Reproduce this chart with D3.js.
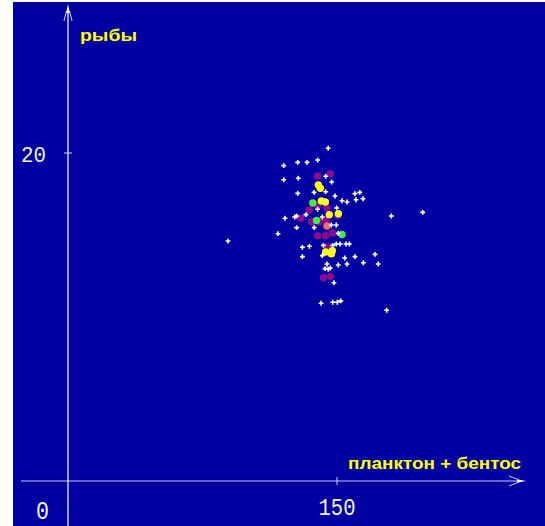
<!DOCTYPE html>
<html>
<head>
<meta charset="utf-8">
<script src="https://cdn.jsdelivr.net/npm/d3@7"></script>
<style>
  html, body { margin: 0; padding: 0; background: #ffffff; }
  svg { display: block; }
</style>
</head>
<body>
<svg id="chart" width="545" height="526"></svg>
<script>
// Axis labels and tick values
const yLabel = "рыбы";
const xLabel = "планктон + бентос";
const xTicks = [150];
const yTicks = [20];
const originLabel = "0";

// Individual observations (plankton + benthos, fish)
const plainX = [145.1,120.3,128.1,133.3,139.2,120.3,128.4,143.7,147.0,128.1,137.2,143.7,148.9,160.0,162.7,164.5,160.6,152.8,155.6,149.8,197.8,180.3,121.0,126.4,127.5,132.7,139.2,141.8,146.8,149.6,127.5,137.3,117.1,150.7,130.7,134.6,142.4,147.6,149.6,151.7,155.0,156.9,130.7,141.8,154.3,160.0,171.2,173.0,164.7,155.6,150.7,144.4,143.3,145.1,146.3,148.3,141.1,147.6,150.2,152.1,177.7,89.2];
const plainY = [20.29,19.23,19.43,19.43,19.57,18.37,18.46,18.58,18.23,17.54,17.60,17.64,17.38,17.52,17.60,17.21,17.15,17.09,17.01,16.65,16.38,16.16,16.02,16.10,16.16,16.24,16.57,16.10,15.61,15.61,15.45,15.45,15.08,15.10,14.25,14.31,14.37,14.37,14.45,14.45,14.45,14.45,13.68,13.74,13.60,13.68,13.82,13.23,13.31,13.23,13.17,13.23,12.95,12.91,12.99,12.09,10.84,10.90,10.90,10.98,10.41,14.63];

// Highlighted groups
const purpleX = [139.2,146.3,134.6,144.4,139.2,129.9,135.9,140.0,143.9,150.4,139.2,143.7,147.6,144.4,142.4,146.3];
const purpleY = [18.60,18.74,16.52,16.65,16.81,16.02,15.81,15.81,15.91,16.20,14.96,14.96,15.12,14.25,12.40,12.48];
const yellowX = [139.6,140.7,141.3,143.5,145.7,150.8,143.7,147.4,146.9];
const yellowY = [18.05,17.85,17.07,17.01,16.24,16.30,13.96,14.04,13.85];
const greenX = [136.5,138.6,152.8];
const greenY = [16.95,15.88,15.03];
const redX = [144.4];
const redY = [15.55];

const svg = d3.select("#chart");

// Frame
svg.append("rect")
  .attr("x", 13).attr("y", 2)
  .attr("width", 532).attr("height", 524)
  .attr("fill", "#0000a2");

const x = d3.scaleLinear().domain([0, 150]).range([68, 337]);
const y = d3.scaleLinear().domain([0, 20]).range([481, 153]);

const axisCol = "#ffffff";
const xAxisCol = "#c8c8ee";
const y0 = y(0), x0 = x(0);

// Horizontal axis with arrow
svg.append("line")
  .attr("x1", 21).attr("x2", 522)
  .attr("y1", y0).attr("y2", y0)
  .attr("stroke", xAxisCol).attr("stroke-width", 1.2);
svg.append("path")
  .attr("d", `M${x0 + 441},${y0 - 5} L${x0 + 450},${y0 - 1.5} M${x0 + 441},${y0 + 5} L${x0 + 450},${y0 + 1.5}`)
  .attr("stroke", xAxisCol).attr("stroke-width", 1).attr("fill", "none");
svg.append("path")
  .attr("d", `M${x0 + 449},${y0 - 1.8} L${x0 + 458},${y0} L${x0 + 449},${y0 + 1.8} Z`)
  .attr("fill", "#ffffff");

// Vertical axis with arrow
svg.append("line")
  .attr("x1", x0).attr("x2", x0)
  .attr("y1", 8).attr("y2", 526)
  .attr("stroke", axisCol).attr("stroke-width", 1.2);
svg.append("path")
  .attr("d", `M${x0 - 4},${21} L${x0 - 1.5},${11} M${x0 + 4},${21} L${x0 + 1.5},${11}`)
  .attr("stroke", "#d8d8f0").attr("stroke-width", 1).attr("fill", "none");
svg.append("path")
  .attr("d", `M${x0 - 1.8},${13} L${x0},${4} L${x0 + 1.8},${13} Z`)
  .attr("fill", "#ffffff");

// Ticks
svg.selectAll(".xtick").data(xTicks).join("line")
  .attr("class", "xtick")
  .attr("x1", d => x(d)).attr("x2", d => x(d))
  .attr("y1", y0 - 4).attr("y2", y0 + 4)
  .attr("stroke", xAxisCol).attr("stroke-width", 1);
svg.selectAll(".ytick").data(yTicks).join("line")
  .attr("class", "ytick")
  .attr("x1", x0 - 4).attr("x2", x0 + 4)
  .attr("y1", d => y(d)).attr("y2", d => y(d))
  .attr("stroke", "#d8d8f0").attr("stroke-width", 1);

const numFont = "'Liberation Mono', 'DejaVu Sans Mono', monospace";
svg.selectAll(".xlab").data(xTicks).join("text")
  .attr("class", "xlab")
  .attr("x", d => x(d) - 18.5).attr("y", 515)
  .attr("textLength", 37).attr("lengthAdjust", "spacingAndGlyphs")
  .attr("font-family", numFont).attr("font-size", 23)
  .attr("fill", "#f4f4ff")
  .text(d => d);
svg.selectAll(".ylab").data(yTicks).join("text")
  .attr("class", "ylab")
  .attr("x", 21).attr("y", d => y(d) + 9)
  .attr("textLength", 25).attr("lengthAdjust", "spacingAndGlyphs")
  .attr("font-family", numFont).attr("font-size", 22)
  .attr("fill", "#f4f4ff")
  .text(d => d);
svg.append("text")
  .attr("x", 36).attr("y", 519)
  .attr("textLength", 13).attr("lengthAdjust", "spacingAndGlyphs")
  .attr("font-family", numFont).attr("font-size", 25)
  .attr("fill", "#f4f4ff")
  .text(originLabel);

// Axis titles
const titleFont = "'Liberation Sans', Arial, sans-serif";
svg.append("text")
  .attr("x", 80).attr("y", 41)
  .attr("textLength", 57).attr("lengthAdjust", "spacingAndGlyphs")
  .attr("font-family", titleFont).attr("font-weight", "bold").attr("font-size", 16)
  .attr("fill", "#ffff00")
  .text(yLabel);
svg.append("text")
  .attr("x", 348).attr("y", 469)
  .attr("textLength", 173).attr("lengthAdjust", "spacingAndGlyphs")
  .attr("font-family", titleFont).attr("font-weight", "bold").attr("font-size", 16)
  .attr("fill", "#ffff00")
  .text(xLabel);

// Coloured groups
function dots(xs, ys, colour) {
  svg.append("g").selectAll("circle")
    .data(xs.map((v, i) => [v, ys[i]]))
    .join("circle")
    .attr("cx", d => x(d[0])).attr("cy", d => y(d[1]))
    .attr("r", 3.7)
    .attr("fill", colour);
}
dots(purpleX, purpleY, "#900a90");
dots(yellowX, yellowY, "#ffff14");
dots(greenX, greenY, "#40f040");
dots(redX, redY, "#ff6464");

// Plain observations as small crosses
svg.append("g").selectAll("path")
  .data(plainX.map((v, i) => [v, plainY[i]]))
  .join("path")
  .attr("transform", d => `translate(${x(d[0])},${y(d[1])})`)
  .attr("d", d3.symbol(d3.symbolCross, 13))
  .attr("fill", "#ffffff");
</script>
</body>
</html>
